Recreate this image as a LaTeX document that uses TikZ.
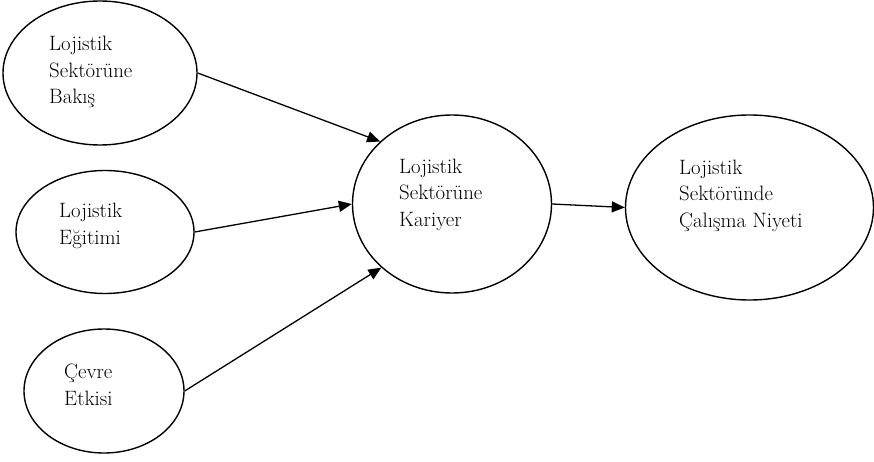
\documentclass[tikz,border=0pt]{standalone}
\usetikzlibrary{shapes.geometric,arrows.meta}
\begin{document}
\begin{tikzpicture}[x=1pt,y=-1pt,
  oval/.style={draw,ellipse,line width=1.4pt,inner sep=0pt},
  lbl/.style={anchor=base west,align=left,inner sep=0pt,font=\fontsize{20.8}{26.5}\selectfont},
  conn/.style={line width=1.3pt,-{Triangle[length=13pt,width=11pt]}}]
\useasboundingbox (0,0) rectangle (874,462);
\node[oval,minimum width=194pt,minimum height=144pt] (e1) at (100,73) {};
\node[oval,minimum width=178pt,minimum height=123pt] (e2) at (105,232) {};
\node[oval,minimum width=160pt,minimum height=124pt] (e3) at (104,391) {};
\node[oval,minimum width=199pt,minimum height=178pt] (e4) at (452,204) {};
\node[oval,minimum width=248pt,minimum height=185pt] (e5) at (749.5,207.5) {};
\node[lbl] (t1) at (49,104) {Lojistik\\Sektörüne\\Bakış};
\node[lbl] (t2) at (59,244) {Lojistik\\Eğitimi};
\node[lbl] (t3) at (64,405) {Çevre\\Etkisi};
\node[lbl] (t4) at (399,226) {Lojistik\\Sektörüne\\Kariyer};
\node[lbl] (t5) at (679,227) {Lojistik\\Sektöründe\\Çalışma Niyeti};
\draw[conn] (e1.east) -- (e4.139);
\draw[conn] (e2.east) -- (e4.west);
\draw[conn] (e3.east) -- (e4.222);
\draw[conn] (e4.east) -- (e5.west);
\end{tikzpicture}
\end{document}
